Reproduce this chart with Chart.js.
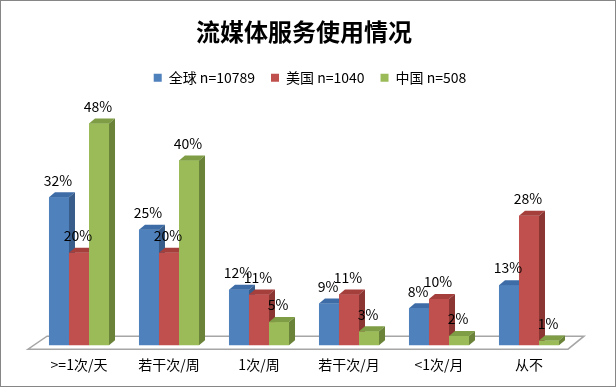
<!DOCTYPE html>
<html>
<head>
<meta charset="utf-8">
<script src="https://cdn.jsdelivr.net/npm/chart.js@4.4.1/dist/chart.umd.min.js"></script>
<style>
  html, body { margin: 0; padding: 0; background: #fff; }
  #wrap { width: 616px; height: 387px; }
</style>
</head>
<body>
<div id="wrap"><canvas id="chart" width="616" height="387"></canvas></div>
<script>
// Chart data
const categories = ['>=1次/天', '若干次/周', '1次/周', '若干次/月', '<1次/月', '从不'];
const seriesNames = ['全球 n=10789', '美国 n=1040', '中国 n=508'];
const globalValues = [32, 25, 12, 9, 8, 13];
const usValues = [20, 20, 11, 11, 10, 28];
const chinaValues = [48, 40, 5, 3, 2, 1];

const FONT = "'Noto Sans CJK SC', 'Noto Sans', sans-serif";
// front / top / side colours per series
const faces = [
    { front: '#4F81BD', top: '#3D6CA6', side: '#385D8A' },
    { front: '#C0504D', top: '#A43F3C', side: '#8C3633' },
    { front: '#9BBB59', top: '#7E9D45', side: '#6A8339' }
];
const DX = 6, DY = 5;

// white background + thin frame, legend nudged to sit like the original
const framePlugin = {
    id: 'frame',
    afterLayout(chart) {
        chart.legend.left += 6;
        chart.legend.right += 6;
    },
    beforeDraw(chart) {
        const ctx = chart.ctx;
        ctx.save();
        ctx.fillStyle = '#fff';
        ctx.fillRect(0, 0, chart.width, chart.height);
        ctx.restore();
    },
    afterDraw(chart) {
        const ctx = chart.ctx;
        ctx.save();
        ctx.strokeStyle = '#868686';
        ctx.lineWidth = 1;
        ctx.strokeRect(0.5, 0.5, chart.width - 1, chart.height - 1);
        ctx.restore();
    }
};

// floor outline of the 3D plot
const floorPlugin = {
    id: 'floor',
    beforeDatasetsDraw(chart) {
        const { ctx, chartArea: a } = chart;
        const y0 = a.bottom + 4, y1 = a.bottom - 9;
        ctx.save();
        ctx.strokeStyle = '#a6a6a6';
        ctx.lineWidth = 1.5;
        ctx.beginPath();
        ctx.moveTo(a.left - 6, y0);
        ctx.lineTo(a.right - 6, y0);
        ctx.lineTo(a.right + 10, y1);
        ctx.lineTo(a.left + 13, y1);
        ctx.closePath();
        ctx.stroke();
        ctx.restore();
    }
};

// redraw every bar as a box (front, top, side), series by series
const boxPlugin = {
    id: 'box3d',
    afterDatasetsDraw(chart) {
        const ctx = chart.ctx;
        ctx.save();
        chart.data.datasets.forEach((ds, i) => {
            const meta = chart.getDatasetMeta(i);
            const c = faces[i];
            meta.data.forEach(el => {
                const { x, y, base, width } = el.getProps(['x', 'y', 'base', 'width'], true);
                const l = x - width / 2, r = x + width / 2;
                ctx.fillStyle = c.front;
                ctx.fillRect(l, y, width, base - y);
                ctx.fillStyle = c.top;
                ctx.beginPath();
                ctx.moveTo(l, y); ctx.lineTo(l + DX, y - DY); ctx.lineTo(r + DX, y - DY); ctx.lineTo(r, y);
                ctx.closePath(); ctx.fill();
                ctx.fillStyle = c.side;
                ctx.beginPath();
                ctx.moveTo(r, y); ctx.lineTo(r + DX, y - DY); ctx.lineTo(r + DX, base - DY); ctx.lineTo(r, base);
                ctx.closePath(); ctx.fill();
            });
        });
        // value labels
        ctx.fillStyle = '#000';
        ctx.font = '14px ' + FONT;
        ctx.textAlign = 'center';
        ctx.textBaseline = 'middle';
        chart.data.datasets.forEach((ds, i) => {
            chart.getDatasetMeta(i).data.forEach((el, j) => {
                const { x, y } = el.getProps(['x', 'y'], true);
                ctx.fillText(ds.data[j] + '%', x - 1, y - 17);
            });
        });
        ctx.restore();
    }
};

new Chart(document.getElementById('chart'), {
    type: 'bar',
    data: {
        labels: categories,
        datasets: [
            { label: seriesNames[0], data: globalValues, backgroundColor: faces[0].front },
            { label: seriesNames[1], data: usValues, backgroundColor: faces[1].front },
            { label: seriesNames[2], data: chinaValues, backgroundColor: faces[2].front }
        ]
    },
    options: {
        responsive: false,
        animation: false,
        layout: { padding: { left: 34, right: 42, top: 17, bottom: 11 } },
        datasets: { bar: { categoryPercentage: 0.667, barPercentage: 1 } },
        plugins: {
            title: {
                display: true,
                text: '流媒体服务使用情况',
                color: '#000',
                font: { family: FONT, size: 24, weight: 'bold' },
                padding: { top: 0, bottom: 9 }
            },
            legend: {
                position: 'top',
                labels: {
                    color: '#000',
                    font: { family: FONT, size: 14 },
                    boxWidth: 8,
                    boxHeight: 8,
                    padding: 16
                }
            },
            tooltip: { enabled: false }
        },
        scales: {
            x: {
                grid: { display: false },
                border: { display: false },
                ticks: { color: '#000', font: { family: FONT, size: 14 }, padding: 3, maxRotation: 0 }
            },
            y: { display: false, min: 0, max: 54.2 }
        }
    },
    plugins: [framePlugin, floorPlugin, boxPlugin]
});
</script>
</body>
</html>
